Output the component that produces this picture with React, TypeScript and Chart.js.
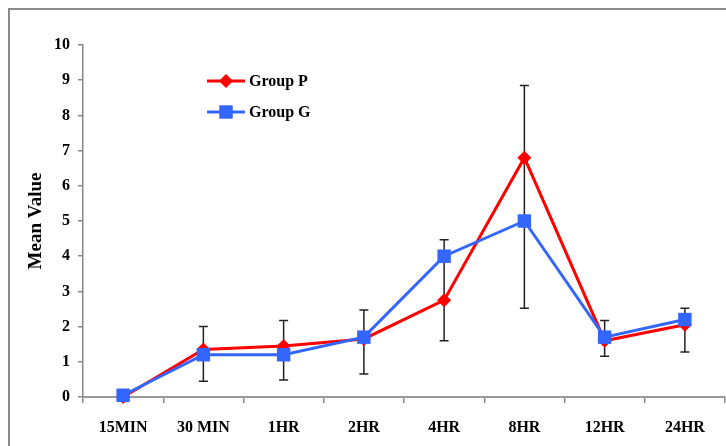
import { useEffect, useRef } from 'react';
import { Chart, registerables } from 'chart.js';

Chart.register(...registerables);

const categories = ['15MIN', '30 MIN', '1HR', '2HR', '4HR', '8HR', '12HR', '24HR'];
const groupP = [0, 1.35, 1.45, 1.65, 2.75, 6.8, 1.6, 2.05];
const groupG = [0.05, 1.2, 1.2, 1.7, 4.0, 5.0, 1.7, 2.2];
const errorHigh = [null, 2.0, 2.17, 2.47, 4.47, 8.85, 2.17, 2.52];
const errorLow = [null, 0.45, 0.48, 0.65, 1.6, 2.52, 1.16, 1.28];
const yTickMin = 0;
const yTickMax = 10;
const yTickStep = 1;

const FONT = "'Liberation Serif', 'Times New Roman', serif";

const framePlugin = {
  id: 'frame',
  beforeDraw(chart: any) {
    const { ctx, width, height } = chart;
    ctx.save();
    ctx.strokeStyle = '#8a8a8a';
    ctx.lineWidth = 2;
    ctx.beginPath();
    ctx.moveTo(9, height);
    ctx.lineTo(9, 9);
    ctx.lineTo(width, 9);
    ctx.stroke();
    ctx.restore();
  },
};

const errorBarPlugin = {
  id: 'errorBars',
  beforeDatasetsDraw(chart: any) {
    const { ctx } = chart;
    const x = chart.scales.x;
    const y = chart.scales.y;
    ctx.save();
    ctx.strokeStyle = '#222';
    ctx.lineWidth = 1.5;
    categories.forEach((_, i) => {
      const hi = errorHigh[i];
      const lo = errorLow[i];
      if (hi == null || lo == null) return;
      const px = x.getPixelForValue(i);
      const yh = y.getPixelForValue(hi);
      const yl = y.getPixelForValue(lo);
      ctx.beginPath();
      ctx.moveTo(px, yh);
      ctx.lineTo(px, yl);
      ctx.moveTo(px - 4.5, yh);
      ctx.lineTo(px + 4.5, yh);
      ctx.moveTo(px - 4.5, yl);
      ctx.lineTo(px + 4.5, yl);
      ctx.stroke();
    });
    ctx.restore();
  },
};

const legendPlugin = {
  id: 'insideLegend',
  afterDraw(chart: any) {
    const { ctx } = chart;
    const x0 = 207;
    const x1 = 245;
    const ys = [81, 112];
    ctx.save();
    chart.data.datasets.forEach((ds: any, i: number) => {
      const yy = ys[i];
      ctx.strokeStyle = ds.borderColor;
      ctx.lineWidth = 3;
      ctx.beginPath();
      ctx.moveTo(x0, yy);
      ctx.lineTo(x1, yy);
      ctx.stroke();
      ctx.fillStyle = ds.backgroundColor;
      const cx = (x0 + x1) / 2;
      const r = ds.pointRadius;
      ctx.beginPath();
      if (ds.pointStyle === 'rectRot') {
        ctx.moveTo(cx - r, yy);
        ctx.lineTo(cx, yy - r);
        ctx.lineTo(cx + r, yy);
        ctx.lineTo(cx, yy + r);
        ctx.closePath();
      } else {
        const s = Math.SQRT1_2 * r;
        ctx.rect(cx - s, yy - s, 2 * s, 2 * s);
      }
      ctx.fill();
      ctx.fillStyle = '#000';
      ctx.font = `bold 16px ${FONT}`;
      ctx.textBaseline = 'middle';
      ctx.textAlign = 'left';
      ctx.fillText(ds.label, x1 + 4, yy + 1);
    });
    ctx.restore();
  },
};

function ChartView() {
  const canvasRef = useRef<HTMLCanvasElement | null>(null);

  useEffect(() => {
    const canvas = canvasRef.current;
    if (!canvas) return;
    const chart = new Chart(canvas, {
      type: 'line',
      data: {
        labels: categories,
        datasets: [
          {
            label: 'Group P',
            data: groupP,
            borderColor: '#FF0000',
            backgroundColor: '#FF0000',
            borderWidth: 3,
            pointStyle: 'rectRot',
            pointRadius: 7,
            pointBorderWidth: 0,
            tension: 0,
            clip: false as any,
            order: 2,
          },
          {
            label: 'Group G',
            data: groupG,
            borderColor: '#3366FF',
            backgroundColor: '#3366FF',
            borderWidth: 3,
            pointStyle: 'rect',
            pointRadius: 9.5,
            pointBorderWidth: 0,
            tension: 0,
            clip: false as any,
            order: 1,
          },
        ],
      },
      options: {
        animation: false,
        responsive: false,
        maintainAspectRatio: false,
        layout: { autoPadding: false, padding: { left: 0, right: 1, top: 45, bottom: 0 } },
        plugins: {
          legend: { display: false },
          tooltip: { enabled: false },
        },
        scales: {
          x: {
            type: 'category',
            offset: true,
            grid: {
              offset: true,
              drawOnChartArea: false,
              tickLength: 6,
              color: '#888',
              lineWidth: 1.5,
            },
            border: { color: '#999', width: 2 },
            ticks: {
              font: { family: FONT, size: 16, weight: 'bold' },
              color: '#000',
              padding: 15,
              maxRotation: 0,
              autoSkip: false,
            },
            afterFit: (scale: any) => {
              scale.height = 49;
              scale.paddingLeft = 0;
              scale.paddingRight = 0;
            },
          },
          y: {
            min: yTickMin,
            max: yTickMax,
            ticks: {
              stepSize: yTickStep,
              font: { family: FONT, size: 16, weight: 'bold' },
              color: '#000',
              padding: 8,
            },
            grid: {
              drawOnChartArea: false,
              tickLength: 5,
              color: '#888',
              lineWidth: 1.5,
            },
            border: { color: '#888', width: 1.5 },
            title: {
              display: true,
              text: 'Mean Value',
              font: { family: FONT, size: 19, weight: 'bold' },
              color: '#000',
              padding: { top: 25, bottom: 0 },
            },
            afterFit: (scale: any) => {
              scale.width = 83;
            },
          },
        },
      },
      plugins: [framePlugin, errorBarPlugin, legendPlugin],
    });
    return () => chart.destroy();
  }, []);

  return <canvas ref={canvasRef} width={726} height={446} style={{ display: 'block' }} />;
}

export default function App() {
  return (
    <div style={{ position: 'absolute', left: 0, top: 0, width: 726, height: 446, background: '#fff' }}>
      <ChartView />
    </div>
  );
}
